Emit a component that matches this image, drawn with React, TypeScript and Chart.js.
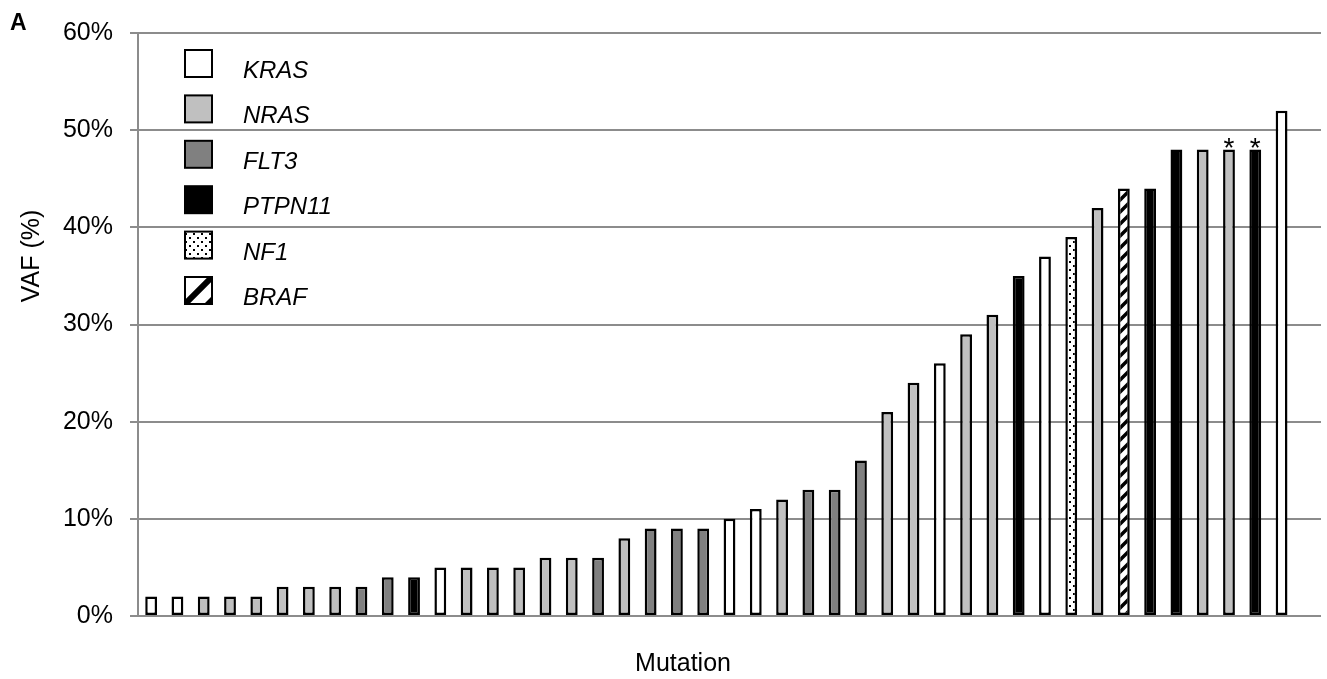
import React, { useEffect, useRef } from "react";
import { Chart, registerables } from "chart.js";
Chart.register(...registerables);

const FONT = "'Liberation Sans', Arial, sans-serif";

// gene of each mutation (sorted by VAF)
const genes = [
  "KRAS", "KRAS", "NRAS", "NRAS", "NRAS", "NRAS", "NRAS", "NRAS", "FLT3", "FLT3",
  "PTPN11", "KRAS", "NRAS", "NRAS", "NRAS", "NRAS", "NRAS", "FLT3", "NRAS", "FLT3",
  "FLT3", "FLT3", "KRAS", "KRAS", "NRAS", "FLT3", "FLT3", "FLT3", "NRAS", "NRAS",
  "KRAS", "NRAS", "NRAS", "PTPN11", "KRAS", "NF1", "NRAS", "BRAF", "PTPN11", "PTPN11",
  "NRAS", "NRAS", "PTPN11", "KRAS",
];
// VAF (%) of each mutation
const vaf = [
  2, 2, 2, 2, 2, 3, 3, 3, 3, 4,
  4, 5, 5, 5, 5, 6, 6, 6, 8, 9,
  9, 9, 10, 11, 12, 13, 13, 16, 21, 24,
  26, 29, 31, 35, 37, 39, 42, 44, 44, 48,
  48, 48, 48, 52,
];
// indices of mutations marked with an asterisk
const starred = [41, 42];
const legendGenes = ["KRAS", "NRAS", "FLT3", "PTPN11", "NF1", "BRAF"];
const yTicks = [0, 10, 20, 30, 40, 50, 60];

function makeDots(): CanvasPattern | string {
  const c = document.createElement("canvas");
  c.width = 8;
  c.height = 8;
  const g = c.getContext("2d");
  if (!g) return "#fff";
  g.fillStyle = "#fff";
  g.fillRect(0, 0, 8, 8);
  g.fillStyle = "#000";
  g.fillRect(1, 1, 2, 2);
  g.fillRect(5, 5, 2, 2);
  return g.createPattern(c, "repeat") || "#fff";
}

function makeHatch(): CanvasPattern | string {
  const s = 12;
  const c = document.createElement("canvas");
  c.width = s;
  c.height = s;
  const g = c.getContext("2d");
  if (!g) return "#fff";
  g.fillStyle = "#fff";
  g.fillRect(0, 0, s, s);
  g.strokeStyle = "#000";
  g.lineWidth = 3.5;
  g.beginPath();
  g.moveTo(0, s);
  g.lineTo(s, 0);
  g.moveTo(-2, 2);
  g.lineTo(2, -2);
  g.moveTo(s - 2, s + 2);
  g.lineTo(s + 2, s - 2);
  g.stroke();
  return g.createPattern(c, "repeat") || "#fff";
}

export default function App() {
  const ref = useRef<HTMLCanvasElement | null>(null);

  useEffect(() => {
    const canvas = ref.current;
    if (!canvas) return;
    const dots = makeDots();
    const hatch = makeHatch();
    const fills: Record<string, any> = {
      KRAS: "#ffffff",
      NRAS: "#c0c0c0",
      FLT3: "#808080",
      PTPN11: "#000000",
      NF1: dots,
      BRAF: hatch,
    };

    const labels = genes.map((_, i) => String(i + 1)).concat([""]);
    const data: (number | null)[] = vaf.slice();
    data.push(null);

    const overlay = {
      id: "overlay",
      afterDraw(chart: any) {
        const ctx = chart.ctx as CanvasRenderingContext2D;
        const meta = chart.getDatasetMeta(0);
        ctx.save();
        // asterisks
        ctx.fillStyle = "#000";
        ctx.font = `28px ${FONT}`;
        ctx.textAlign = "center";
        ctx.textBaseline = "alphabetic";
        starred.forEach((i) => {
          const el = meta.data[i];
          ctx.fillText("*", el.x, el.y + 7);
        });
        // legend
        const sq = 27;
        const lx = 185;
        legendGenes.forEach((gname, i) => {
          const top = 50 + i * 45.4;
          ctx.save();
          ctx.beginPath();
          ctx.rect(lx, top, sq, sq);
          ctx.fillStyle = gname === "BRAF" ? "#fff" : fills[gname];
          ctx.fill();
          if (gname === "BRAF") {
            ctx.save();
            ctx.clip();
            ctx.strokeStyle = "#000";
            ctx.lineWidth = 6;
            ctx.beginPath();
            ctx.moveTo(lx - 2, top + sq + 2);
            ctx.lineTo(lx + sq + 2, top - 2);
            ctx.stroke();
            ctx.beginPath();
            ctx.moveTo(lx + sq, top + sq - 8);
            ctx.lineTo(lx + sq, top + sq);
            ctx.lineTo(lx + sq - 8, top + sq);
            ctx.closePath();
            ctx.fillStyle = "#000";
            ctx.fill();
            ctx.restore();
          }
          ctx.lineWidth = 2;
          ctx.strokeStyle = "#000";
          ctx.strokeRect(lx, top, sq, sq);
          ctx.restore();
          ctx.fillStyle = "#000";
          ctx.font = `italic 24px ${FONT}`;
          ctx.textAlign = "left";
          ctx.textBaseline = "alphabetic";
          ctx.fillText(gname, 243, top + sq + 1);
        });
        // panel letter
        ctx.font = `bold 23px ${FONT}`;
        ctx.textAlign = "left";
        ctx.textBaseline = "alphabetic";
        ctx.fillText("A", 10, 30);
        // axis titles
        ctx.font = `25px ${FONT}`;
        ctx.textAlign = "center";
        ctx.textBaseline = "middle";
        ctx.fillText("Mutation", 683, 664);
        ctx.save();
        ctx.translate(32, 256);
        ctx.rotate(-Math.PI / 2);
        ctx.fillText("VAF (%)", 0, 0);
        ctx.restore();
        ctx.restore();
      },
    };

    const chart = new Chart(canvas, {
      type: "bar",
      data: {
        labels,
        datasets: [
          {
            data,
            backgroundColor: genes.map((g) => fills[g]).concat(["#fff"]),
            borderColor: "#000",
            borderWidth: 2.5,
            borderSkipped: false,
            barPercentage: 0.45,
            categoryPercentage: 1,
          },
        ],
      },
      options: {
        animation: false,
        responsive: false,
        devicePixelRatio: 1,
        layout: { padding: { top: 33, right: 6, left: 0, bottom: 0 } },
        plugins: { legend: { display: false }, tooltip: { enabled: false } },
        scales: {
          x: {
            grid: { display: false },
            border: { display: false },
            ticks: { display: false },
            afterFit: (s: any) => {
              s.height = 63;
            },
          },
          y: {
            min: yTicks[0],
            max: yTicks[yTicks.length - 1],
            afterBuildTicks: (s: any) => {
              s.ticks = yTicks.map((v) => ({ value: v }));
            },
            ticks: {
              callback: (v: any) => v + "%",
              color: "#000",
              font: { size: 25, family: FONT },
              padding: 17,
            },
            grid: { color: "#8c8c8c", lineWidth: 2, tickLength: 8 },
            border: { color: "#8c8c8c", width: 2 },
            afterFit: (s: any) => {
              s.width = 138;
            },
          },
        },
      },
      plugins: [overlay],
    } as any);

    return () => chart.destroy();
  }, []);

  return (
    <div style={{ position: "fixed", left: 0, top: 0, width: 1327, height: 679, background: "#fff" }}>
      <canvas ref={ref} width={1327} height={679} style={{ display: "block" }} />
    </div>
  );
}
